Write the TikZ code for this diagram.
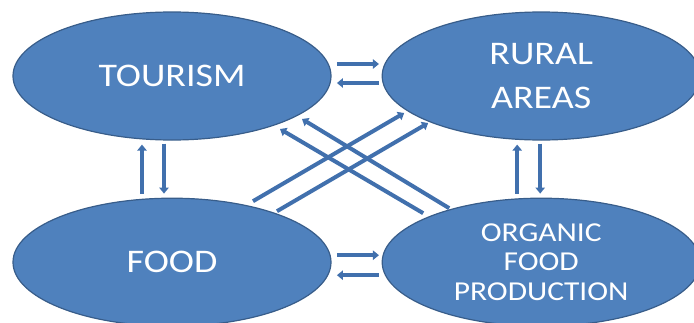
\documentclass[tikz,border=0pt]{standalone}
\usepackage{fontspec}
\usepackage{tikz}
\usetikzlibrary{arrows.meta,positioning,shapes.geometric}
\newfontfamily\bubblefont[FakeStretch=1.15]{Carlito}
\definecolor{bubblefill}{HTML}{4F81BD}
\definecolor{bubbleedge}{HTML}{385D8A}
\definecolor{flowblue}{HTML}{4170AD}
\tikzset{
  bubble/.style={ellipse, draw=bubbleedge, fill=bubblefill, line width=0.9pt, text=white, align=center, inner sep=0pt, minimum width=238.5pt, minimum height=96pt, font=\bubblefont\fontsize{24.75}{32.6}\selectfont},
  flow/.style={-{Triangle[width=7pt,length=4.5pt]}, line width=3pt, draw=flowblue}
}

\begin{document}
\begin{tikzpicture}[x=0.75pt, y=0.75pt]
\clip (-172,76) rectangle (522,-246);
\node[bubble] (tour) {TOURISM};
\node[bubble, right=37.5pt of tour] (rural) {RURAL\\AREAS};
\node[bubble, below=42.75pt of tour] (food) {FOOD};
\node[bubble, below=42.75pt of rural, font=\bubblefont\fontsize{20.5}{22}\selectfont] (org) {ORGANIC\\FOOD\\PRODUCTION};
% side by side
\draw[flow, shorten <=4pt, shorten >=2pt] ([yshift=9pt]tour.east) -- ([yshift=9pt]rural.west);
\draw[flow, shorten <=2pt, shorten >=4pt] ([yshift=-5.25pt]rural.west) -- ([yshift=-5.25pt]tour.east);
\draw[flow, shorten <=4pt, shorten >=2pt] ([yshift=5.25pt]food.east) -- ([yshift=5.25pt]org.west);
\draw[flow, shorten <=2pt, shorten >=4pt] ([yshift=-9.75pt]org.west) -- ([yshift=-9.75pt]food.east);
% up and down
\draw[flow, shorten <=3pt, shorten >=3pt] ([xshift=-22.5pt]food.north) -- ([xshift=-22.5pt]tour.south);
\draw[flow, shorten <=2.25pt, shorten >=3pt] ([xshift=-6pt]tour.south) -- ([xshift=-6pt]food.north);
\draw[flow, shorten <=3pt, shorten >=3pt] ([xshift=-18pt]org.north) -- ([xshift=-18pt]rural.south);
\draw[flow, shorten <=2.25pt, shorten >=3pt] ([xshift=-0.75pt]rural.south) -- ([xshift=-0.75pt]org.north);
% crossing
\draw[flow] ([shift={(81,61)}]food.center) -- ([shift={(-137,-37)}]rural.center);
\draw[flow] ([shift={(105,51)}]food.center) -- ([shift={(-113,-47)}]rural.center);
\draw[flow] ([shift={(-92,54)}]org.center) -- ([shift={(130,-43)}]tour.center);
\draw[flow] ([shift={(-118,49)}]org.center) -- ([shift={(108,-53)}]tour.center);
\end{tikzpicture}
\end{document}
